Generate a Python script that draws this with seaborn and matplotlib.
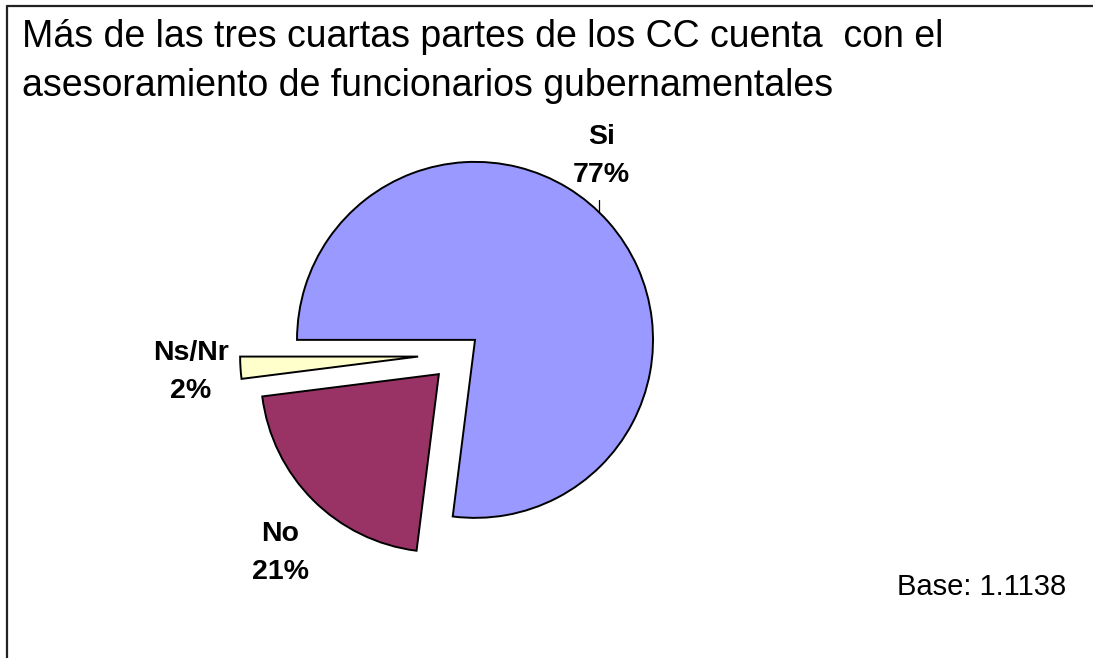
import numpy as np
import seaborn as sns
import matplotlib.pyplot as plt
from matplotlib.lines import Line2D

# -------------------------------
# Data
# -------------------------------
categories = ["Si", "No", "Ns/Nr"]
shares = [77, 21, 2]
slice_colors = ["#9999FF", "#993366", "#FFFFCC"]
explode = [0.12, 0.16, 0.23]

title_lines = [
    "Más de las tres cuartas partes de los CC cuenta  con el",
    "asesoramiento de funcionarios gubernamentales",
]
base_note = "Base: 1.1138"

# label block centres (pie radius units), layout only
label_pos = {"Si": (0.80, 1.11), "No": (-1.005, -1.12), "Ns/Nr": (-1.505, -0.10)}

# -------------------------------
# Style
# -------------------------------
sns.set_theme(style="white")
plt.rcParams["font.family"] = ["Liberation Sans", "DejaVu Sans"]

W, H = 1093, 658
fig = plt.figure(figsize=(W / 100, H / 100), dpi=100)
fig.patch.set_facecolor("white")

# pie axes: centre (459, 354) px, radius 178 px
R_PX = 178
CX, CY = 459, 354
half = 1.5 * R_PX
ax = fig.add_axes([(CX - half) / W, (H - CY - half) / H, 2 * half / W, 2 * half / H])

wedges, _ = ax.pie(
    shares,
    colors=slice_colors,
    explode=explode,
    startangle=180,
    counterclock=False,
    wedgeprops={"edgecolor": "black", "linewidth": 1.4},
)
ax.set_xlim(-1.5, 1.5)
ax.set_ylim(-1.5, 1.5)
ax.set_aspect("equal")
ax.axis("off")

for cat, val in zip(categories, shares):
    x, y = label_pos[cat]
    ax.text(x, y, f"{cat}\n{val}%", ha="center", va="center", color="black",
            fontsize=20.5, fontweight="bold", linespacing=1.6,
            multialignment="center")

# leader line for Si label
ax.plot([0.787, 0.787], [0.865, 0.80], color="black", lw=0.9)

# -------------------------------
# Title, note and frame
# -------------------------------
fig.text(22 / W, 1 - 47 / H, title_lines[0], fontsize=27, va="baseline", ha="left", color="black")
fig.text(22 / W, 1 - 96 / H, title_lines[1], fontsize=27, va="baseline", ha="left", color="black")
fig.text(897 / W, 1 - 595 / H, base_note, fontsize=21, va="baseline", ha="left", color="black")

fig.add_artist(Line2D([6.5 / W, 6.5 / W], [0, 1 - 5.5 / H], color="#222222", lw=1.6,
                      transform=fig.transFigure))
fig.add_artist(Line2D([6.5 / W, 1], [1 - 5.5 / H, 1 - 5.5 / H], color="#222222", lw=1.6,
                      transform=fig.transFigure))

fig.savefig("out.png", dpi=100)
plt.close(fig)
